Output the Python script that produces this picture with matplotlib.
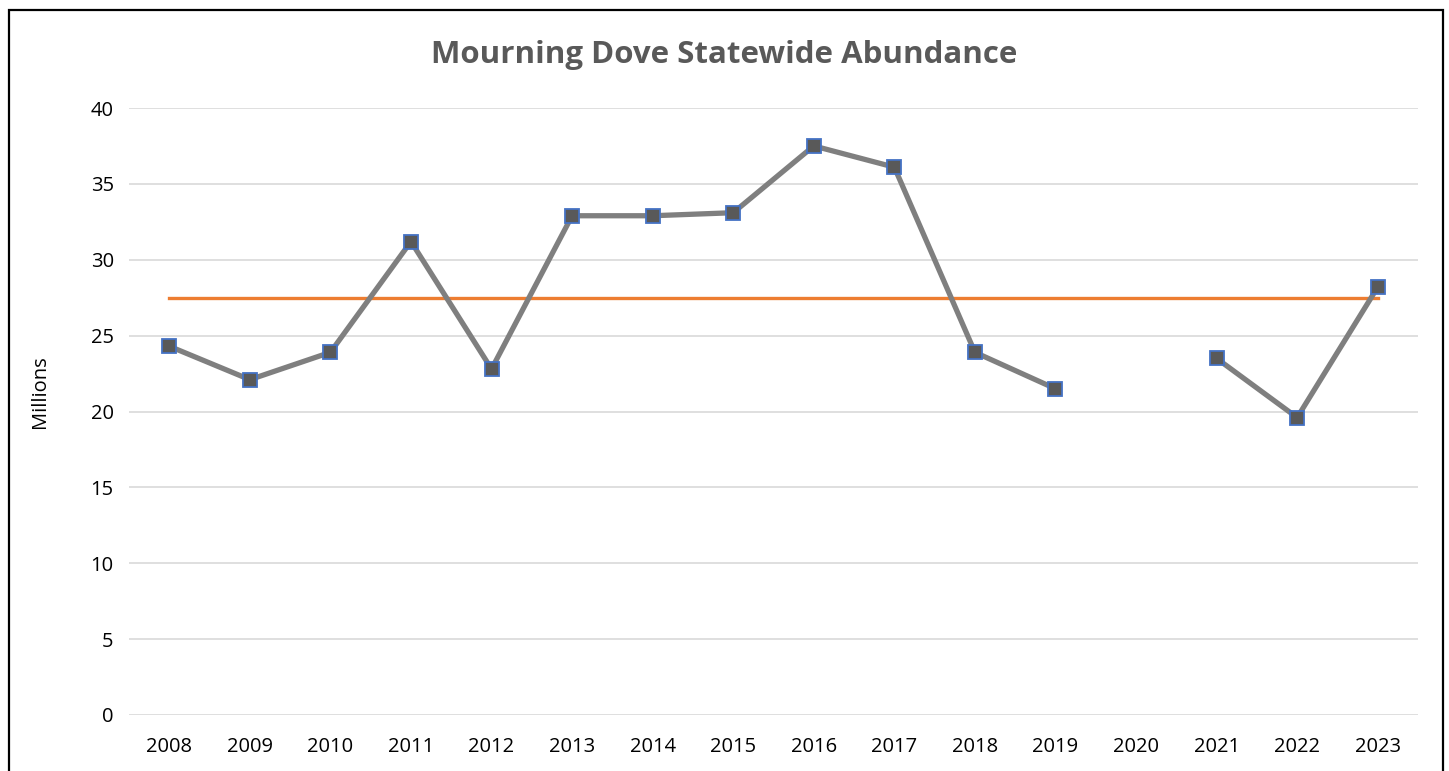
import numpy as np
import matplotlib.pyplot as plt
from matplotlib.patches import Rectangle

years = ['2008', '2009', '2010', '2011', '2012', '2013', '2014', '2015',
         '2016', '2017', '2018', '2019', '2020', '2021', '2022', '2023']
abundance = [24.3, 22.1, 23.9, 31.2, 22.8, 32.9, 32.9, 33.1,
             37.5, 36.1, 23.9, 21.5, np.nan, 23.5, 19.6, 28.2]
average = 27.5

plt.rcParams['font.family'] = ['Open Sans', 'DejaVu Sans']

W, H = 1449, 771
fig = plt.figure(figsize=(W / 100, H / 100), dpi=100)
ax = fig.add_axes([129 / W, (H - 715) / H, (1418 - 129) / W, (715 - 108) / H])

x = np.arange(len(years))
ax.plot(x, [average] * len(years), color='#ED7D31', lw=2.4, zorder=2)
ax.plot(x, abundance, color='#7F7F7F', lw=3.8, zorder=3,
        marker='s', markersize=10, markerfacecolor='#595959',
        markeredgecolor='#4472C4', markeredgewidth=1.3)

ax.set_xlim(-0.5, len(years) - 0.5)
ax.set_ylim(0, 40)
ax.set_yticks(range(0, 41, 5))
ax.set_xticks(x)
ax.set_xticklabels(years)
ax.grid(axis='y', color='#D9D9D9', lw=1.2)
ax.set_axisbelow(True)
for s in ax.spines.values():
    s.set_visible(False)
ax.tick_params(length=0, labelsize=14.5, colors='#000000', pad=16)
ax.tick_params(axis='y', pad=11)
ax.set_ylabel('Millions', fontsize=14.5)
ax.yaxis.set_label_coords(-0.061, 0.532)
fig.text(0.5, (H - 55) / H, 'Mourning Dove Statewide Abundance', fontsize=22.5,
         fontweight='bold', color='#595959', ha='center', va='center')

fig.patches.append(Rectangle((9 / W, -0.1), (1443 - 9) / W, 1.1 - 10 / H,
                             transform=fig.transFigure, fill=False,
                             edgecolor='black', lw=1.6))

fig.savefig('out.png', dpi=100)
